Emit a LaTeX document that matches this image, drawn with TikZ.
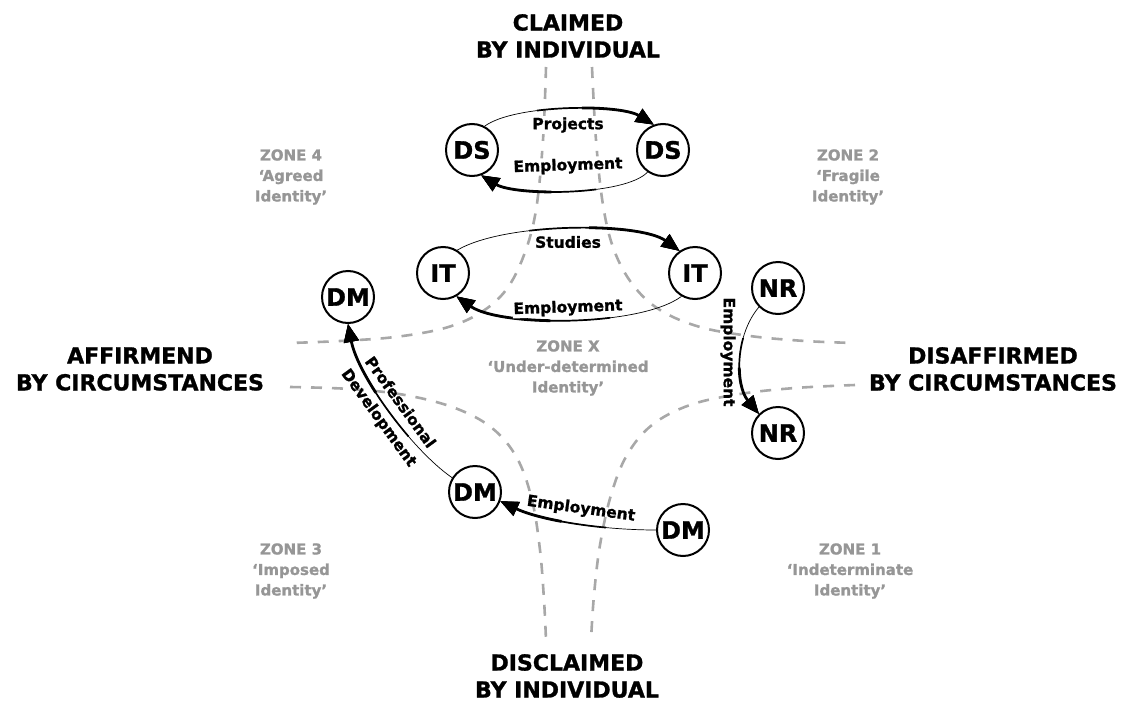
\documentclass[tikz,border=0pt]{standalone}
\usepackage{fontspec}
\setmainfont{DejaVu Sans}[BoldFeatures={FakeBold=1.2}]
\usetikzlibrary{arrows.meta}
\definecolor{zonegray}{RGB}{150,150,150}
\definecolor{dashgray}{RGB}{168,168,168}
\begin{document}
\begin{tikzpicture}[x=1pt,y=-1pt,
  state/.style={circle, draw=black, line width=2pt, fill=white, minimum size=52pt, inner sep=0pt,
    font=\fontsize{24}{28}\selectfont\bfseries},
  elabel/.style={fill=white, inner sep=1pt, font=\fontsize{15.5}{18}\selectfont\bfseries},
  plabel/.style={inner sep=1pt, font=\fontsize{15.5}{18}\selectfont\bfseries},
  zone/.style={align=center, text=zonegray, font=\fontsize{15}{20.5}\selectfont\bfseries},
  axislabel/.style={align=center, font=\fontsize{22}{27}\selectfont\bfseries},
  boundary/.style={draw=dashgray, line width=2.6pt, dash pattern=on 11pt off 10pt},
  flow/.style 2 args={draw=black, line width=2.8pt,
    dash pattern=on 0pt off #2 on 4000pt off 1pt,
    -{Triangle[length=18pt,width=15pt]},
    preaction={draw=black, solid, line width=0.7pt},
    preaction={draw=black, line width=1.7pt, dash pattern=on 0pt off #1 on 4000pt off 1pt}}
]
\useasboundingbox (0,0) rectangle (1129,701);

% zone boundaries
\draw[boundary] plot[smooth, tension=0.6] coordinates {(546,67) (543,140) (536,210) (524,255) (506,290) (480,313) (445,328) (395,337) (340,341) (290,343)};
\draw[boundary] plot[smooth, tension=0.6] coordinates {(592,67) (596,140) (603,205) (614,250) (633,285) (660,310) (700,327) (750,336) (805,341) (855,343)};
\draw[boundary] plot[smooth, tension=0.6] coordinates {(290,387) (350,389) (405,395) (455,408) (492,428) (517,458) (532,500) (540,550) (544,600) (546,640)};
\draw[boundary] plot[smooth, tension=0.6] coordinates {(855,385) (795,388) (740,394) (690,405) (652,425) (627,455) (611,495) (600,545) (594,595) (591,640)};

% axis labels
\node[axislabel] (claimed) at (568,36) {CLAIMED\\BY INDIVIDUAL};
\node[axislabel] (disclaimed) at (567,676) {DISCLAIMED\\BY INDIVIDUAL};
\node[axislabel] (affirmed) at (140,369) {AFFIRMEND\\BY CIRCUMSTANCES};
\node[axislabel] (disaffirmed) at (993,369) {DISAFFIRMED\\BY CIRCUMSTANCES};

% zone labels
\node[zone] (z4) at (291,177) {ZONE 4\\`Agreed\\Identity'};
\node[zone] (z2) at (848,177) {ZONE 2\\`Fragile\\Identity'};
\node[zone] (z3) at (291,571) {ZONE 3\\`Imposed\\Identity'};
\node[zone] (z1) at (850,571) {ZONE 1\\`Indeterminate\\Identity'};
\node[zone] (zx) at (568,368) {ZONE X\\`Under-determined\\Identity'};

% states
\node[state] (DSl) at (472,150) {DS};
\node[state] (DSr) at (663,150) {DS};
\node[state] (ITl) at (443,273) {IT};
\node[state] (ITr) at (695,273) {IT};
\node[state] (DMt) at (348,297) {DM};
\node[state] (NRt) at (778,288) {NR};
\node[state] (NRb) at (778,433) {NR};
\node[state] (DMm) at (475,492) {DM};
\node[state] (DMr) at (683,530) {DM};

% flows
\path[flow={55pt}{100pt}] (DSl.62) .. controls (515,104) and (620,104) .. (DSr.110);
\path[flow={55pt}{100pt}] (DSr.-125) .. controls (625,196) and (515,196) .. (DSl.-70);
\path[flow={75pt}{135pt}] (ITl.58) .. controls (505,222) and (640,222) .. (ITr.125);
\path[flow={75pt}{135pt}] (ITr.-120) .. controls (640,327) and (500,327) .. (ITl.-60);
\path[flow={35pt}{65pt}] (NRt.-135) .. controls (735,335) and (735,385) .. (NRb.135);
\path[flow={50pt}{95pt}] (DMr.180) .. controls (600,530) and (540,520) .. (DMm.-20);
\path[flow={60pt}{115pt}] (DMm.148) .. controls (412,450) and (358,376) .. (DMt.-90);

% flow labels
\node[elabel] (lp) at (568,125) {Projects};
\node[elabel, rotate=2] (le1) at (568,166) {Employment};
\node[elabel] (ls) at (568,242) {Studies};
\node[elabel, rotate=2] (le2) at (568,308) {Employment};
\node[plabel, rotate=-90] (le3) at (728,352) {Employment};
\node[plabel, rotate=-8] (le4) at (581,509) {Employment};
\node[plabel, rotate=-54, align=center, font=\fontsize{15.5}{26}\selectfont\bfseries] (lpd) at (389,410.5) {Professional\\Development};
\end{tikzpicture}
\end{document}
